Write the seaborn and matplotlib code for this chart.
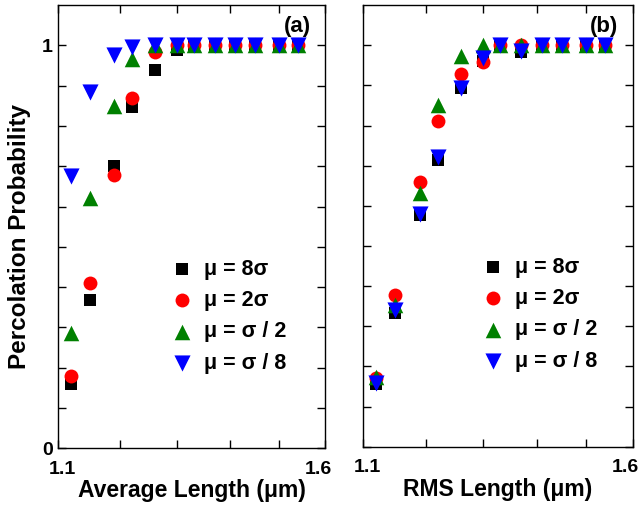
import numpy as np
import pandas as pd
import matplotlib
matplotlib.use("Agg")
import matplotlib.pyplot as plt
import matplotlib.transforms as mtrans
from matplotlib.ticker import NullLocator, FixedLocator
import seaborn as sns

# Daten
length = [1.12, 1.15, 1.19, 1.22, 1.26, 1.30, 1.33, 1.37, 1.41, 1.45, 1.50, 1.54]

avg_8s = [0.159, 0.369, 0.700, 0.847, 0.938, 0.988, 1, 1, 1, 1, 1, 1]
avg_2s = [0.179, 0.409, 0.678, 0.869, 0.983, 1, 1, 1, 1, 1, 1, 1]
avg_s2 = [0.285, 0.620, 0.849, 0.967, 1, 1, 1, 1, 1, 1, 1, 1]
avg_s8 = [0.675, 0.884, 0.975, 0.996, 1, 1, 1, 1, 1, 1, 1, 1]

rms_8s = [0.156, 0.333, 0.576, 0.714, 0.893, 0.961, 1, 0.982, 1, 1, 1, 1]
rms_2s = [0.171, 0.379, 0.659, 0.810, 0.929, 0.958, 1, 1, 1, 1, 1, 1]
rms_s2 = [0.174, 0.352, 0.631, 0.852, 0.973, 1, 1, 1, 1, 1, 1, 1]
rms_s8 = [0.158, 0.340, 0.580, 0.721, 0.893, 0.968, 1, 0.986, 1, 1, 1, 1]

labels = ["μ = 8σ", "μ = 2σ", "μ = σ / 2", "μ = σ / 8"]
markers = ["s", "o", "^", "v"]
colors = ["black", "red", "green", "blue"]
sizes = [80, 100, 125, 135]

sns.set_style("ticks")
plt.rcParams["font.family"] = ["Liberation Sans", "DejaVu Sans"]
plt.rcParams["font.weight"] = "bold"
for k in ["text.color", "axes.labelcolor", "xtick.color", "ytick.color"]:
    plt.rcParams[k] = "black"

fig = plt.figure(figsize=(6.39, 5.07), dpi=100)
ax1 = fig.add_axes([0.0915, 0.1158, 0.4171, 0.8742])
ax2 = fig.add_axes([0.5686, 0.119, 0.4216, 0.871])

panels = [
    (ax1, [avg_8s, avg_2s, avg_s2, avg_s8], "Average Length (μm)", "(a)", (0.426, 0.428)),
    (ax2, [rms_8s, rms_2s, rms_s2, rms_s8], "RMS Length (μm)", "(b)", (0.444, 0.430)),
]

for ax, series, xlab, tag, legpos in panels:
    for vals, lab, mk, col, s in zip(series, labels, markers, colors, sizes):
        df = pd.DataFrame({"x": length, "y": vals})
        sns.scatterplot(data=df, x="x", y="y", ax=ax, marker=mk, color=col,
                        s=s, linewidth=0, label=lab, zorder=3)
    ax.set_xscale("log")
    ax.set_xlim(1.1, 1.6)
    ax.set_ylim(0, 1.1)
    ax.xaxis.set_major_locator(FixedLocator([1.1, 1.2, 1.3, 1.4, 1.5, 1.6]))
    ax.xaxis.set_minor_locator(NullLocator())
    ax.set_xticklabels(["1.1", "", "", "", "", "1.6"])
    ax.set_yticks(np.arange(0, 1.01, 0.1))
    ax.tick_params(direction="in", length=6, width=1.0, top=True, right=True,
                   labelsize=14, pad=4)
    ax.tick_params(axis="x", pad=9)
    for sp in ax.spines.values():
        sp.set_linewidth(1.0)
        sp.set_color("black")
    # Randbeschriftungen etwas nach innen schieben
    xl = ax.get_xticklabels()
    xl[0].set_transform(xl[0].get_transform() + mtrans.ScaledTranslation(4 / 100, 0, fig.dpi_scale_trans))
    xl[-1].set_transform(xl[-1].get_transform() + mtrans.ScaledTranslation(-7 / 100, 0, fig.dpi_scale_trans))
    ax.set_xlabel(xlab, fontsize=16.5, fontweight="bold", labelpad=1)
    ax.text(0.946, 0.975, tag, transform=ax.transAxes, ha="right", va="top",
            fontsize=16, fontweight="bold")
    ax.legend(loc="upper left", bbox_to_anchor=legpos, frameon=False,
              fontsize=15.5, handlelength=0.9, handletextpad=0.6,
              labelspacing=0.48, borderpad=0, borderaxespad=0)

ax1.set_yticklabels(["0"] + [""] * 9 + ["1"])
ax1.set_ylabel("Percolation Probability", fontsize=17.5, fontweight="bold")
ax1.yaxis.set_label_coords(-0.103, 0.477)
ax2.set_yticklabels([])
ax2.set_ylabel("")

fig.savefig("out.png", dpi=100)
